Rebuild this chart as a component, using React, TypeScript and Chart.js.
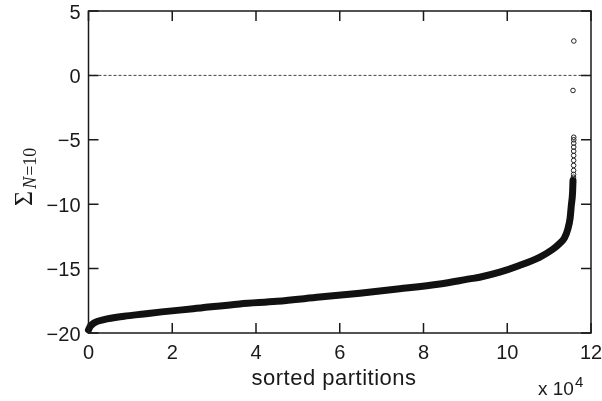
import React, { useEffect, useRef } from "react";
import { Chart, registerables } from "chart.js";

Chart.register(...registerables);

// Dense sorted curve (x = partition index, y = Σ_{N=10})
const curveX = [0, 400, 1300, 3700, 8500, 13200, 17500, 25000, 36100, 45000, 55200, 64800, 74300, 83900, 91000, 93400, 98200, 102900, 107700, 110800, 112500, 113700, 114500, 115000, 115300, 115600, 115700];
const curveY = [-19.75, -19.5, -19.22, -18.96, -18.7, -18.52, -18.36, -18.12, -17.74, -17.54, -17.21, -16.91, -16.57, -16.19, -15.8, -15.67, -15.28, -14.76, -14.12, -13.52, -13.05, -12.59, -11.89, -11.11, -10.1, -9.09, -8.16];

// Sparse tail of individual partitions (open circles)
const tailX = [115800, 115820, 115840, 115850, 115850, 115860, 115860, 115870, 115870, 115880, 115880, 115880, 115700, 115900];
const tailY = [-8.3, -7.9, -7.69, -7.38, -6.99, -6.6, -6.22, -5.88, -5.57, -5.26, -5.0, -4.8, -1.17, 2.67];

// Reference line at zero
const zeroX = [0, 120000];
const zeroY = [0, 0];

const xTicks = [0, 2, 4, 6, 8, 10, 12];
const yTicks = [5, 0, -5, -10, -15, -20];

const INK = "#1a1a1a";
const SANS = '"Liberation Sans", Arial, sans-serif';
const SERIF = '"Liberation Serif", "Times New Roman", serif';

const fmtMinus = (v: number) => (v < 0 ? "\u2212" + Math.abs(v) : String(v));

const framePlugin = {
  id: "frameAndLabels",
  afterDraw(chart: any) {
    const { ctx, chartArea } = chart;
    const { left, right, top, bottom } = chartArea;
    const xs = chart.scales.x;
    const ys = chart.scales.y;
    ctx.save();
    ctx.strokeStyle = INK;
    ctx.lineWidth = 1.5;
    ctx.strokeRect(left, top, right - left, bottom - top);
    const tl = 10;
    ctx.beginPath();
    xs.ticks.forEach((t: any) => {
      const px = xs.getPixelForValue(t.value);
      ctx.moveTo(px, bottom);
      ctx.lineTo(px, bottom - tl);
      ctx.moveTo(px, top);
      ctx.lineTo(px, top + tl);
    });
    ys.ticks.forEach((t: any) => {
      const py = ys.getPixelForValue(t.value);
      ctx.moveTo(left, py);
      ctx.lineTo(left + tl, py);
      ctx.moveTo(right, py);
      ctx.lineTo(right - tl, py);
    });
    ctx.stroke();

    // x-axis title
    ctx.fillStyle = INK;
    ctx.textBaseline = "alphabetic";
    ctx.textAlign = "center";
    ctx.font = `22px ${SANS}`;
    try { (ctx as any).letterSpacing = "0.5px"; } catch (e) {}
    ctx.fillText("sorted partitions", 334, 385);
    try { (ctx as any).letterSpacing = "0px"; } catch (e) {}

    // exponent note
    ctx.textAlign = "left";
    ctx.font = `19px ${SANS}`;
    ctx.fillText("x 10", 538, 395);
    const w10 = ctx.measureText("x 10").width;
    ctx.font = `15px ${SANS}`;
    ctx.fillText("4", 538 + w10 + 1, 387);

    // y-axis title: Σ_{N=10}
    ctx.translate(32, 206);
    ctx.rotate(-Math.PI / 2);
    ctx.font = `26px ${SERIF}`;
    ctx.fillText("\u03A3", 0, 0);
    let off = ctx.measureText("\u03A3").width + 2;
    ctx.font = `italic 18px ${SERIF}`;
    ctx.fillText("N", off, 4);
    off += ctx.measureText("N").width + 1;
    ctx.font = `18px ${SERIF}`;
    ctx.fillText("=10", off, 4);
    ctx.restore();
  },
};

export default function App() {
  const ref = useRef<HTMLCanvasElement | null>(null);
  useEffect(() => {
    document.body.style.margin = "0";
    const canvas = ref.current;
    if (!canvas) return;
    const chart = new Chart(canvas, {
      type: "scatter",
      data: {
        datasets: [
          {
            label: "zero",
            data: zeroX.map((x, i) => ({ x, y: zeroY[i] })),
            showLine: true,
            borderColor: "#444",
            borderWidth: 1,
            borderDash: [3, 2],
            pointRadius: 0,
          },
          {
            label: "curve",
            data: curveX.map((x, i) => ({ x, y: curveY[i] })),
            showLine: true,
            borderColor: "#111",
            borderWidth: 7,
            borderCapStyle: "round",
            borderJoinStyle: "round",
            cubicInterpolationMode: "monotone",
            pointRadius: 0,
            clip: false,
          } as any,
          {
            label: "tail",
            data: tailX.map((x, i) => ({ x, y: tailY[i] })),
            showLine: false,
            pointRadius: 2.3,
            pointBorderWidth: 1,
            pointBorderColor: "#222",
            pointBackgroundColor: "rgba(255,255,255,0)",
            clip: false,
          } as any,
        ],
      },
      options: {
        responsive: false,
        animation: false,
        layout: { padding: { top: 11, right: 11, left: 0, bottom: 0 } },
        plugins: { legend: { display: false }, tooltip: { enabled: false } },
        scales: {
          x: {
            type: "linear",
            min: 0,
            max: 120000,
            afterBuildTicks: (s: any) => {
              s.ticks = xTicks.map((v) => ({ value: v * 10000 }));
            },
            ticks: {
              callback: (v: any) => String(Number(v) / 10000),
              font: { family: SANS, size: 20, lineHeight: 1 },
              color: INK,
              padding: 10,
              maxRotation: 0,
            },
            grid: { display: false, drawTicks: false },
            border: { display: false },
            afterFit: (s: any) => {
              s.height = 68;
              s.paddingLeft = 0;
              s.paddingRight = 0;
            },
          },
          y: {
            type: "linear",
            min: -20,
            max: 5,
            afterBuildTicks: (s: any) => {
              s.ticks = yTicks.map((v) => ({ value: v }));
            },
            ticks: {
              callback: (v: any) => fmtMinus(Number(v)),
              font: { family: SANS, size: 20, lineHeight: 1 },
              color: INK,
              padding: 8,
              labelOffset: 2,
            },
            grid: { display: false, drawTicks: false },
            border: { display: false },
            afterFit: (s: any) => {
              s.width = 88.5;
              s.paddingTop = 0;
              s.paddingBottom = 0;
            },
          },
        },
      } as any,
      plugins: [framePlugin],
    });
    return () => chart.destroy();
  }, []);
  return (
    <div style={{ width: 602, height: 401 }}>
      <canvas ref={ref} width={602} height={401} style={{ display: "block" }} />
    </div>
  );
}
